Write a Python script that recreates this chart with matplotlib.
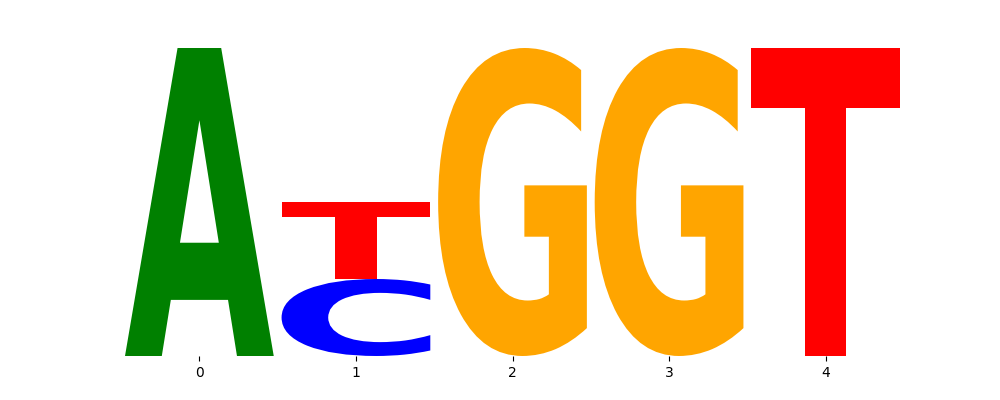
import matplotlib
matplotlib.use('Agg')
import matplotlib.pyplot as plt
from matplotlib.textpath import TextPath
from matplotlib.patches import PathPatch
from matplotlib.font_manager import FontProperties
from matplotlib.transforms import Affine2D

# stacked letters per position (bottom to top) with their heights
positions = [0, 1, 2, 3, 4]
letters = [['A'], ['C', 'T'], ['G'], ['G'], ['T']]
heights = [[2.0], [0.5, 0.5], [2.0], [2.0], [2.0]]
colors = {'A': 'green', 'C': 'blue', 'G': 'orange', 'T': 'red'}

width = 0.95
fp = FontProperties(family='DejaVu Sans', weight='bold')


def draw_letter(ax, ch, x, floor, h):
    path = TextPath((0, 0), ch, size=1, prop=fp)
    ext = path.get_extents()
    tr = (Affine2D().translate(-ext.x0, -ext.y0)
          .scale(width / ext.width, h / ext.height)
          .translate(x - width / 2, floor))
    ax.add_patch(PathPatch(tr.transform_path(path), facecolor=colors[ch],
                           edgecolor='none'))


fig, ax = plt.subplots(figsize=(10, 4), dpi=100)
for pos, chars, hs in zip(positions, letters, heights):
    floor = 0
    for ch, h in zip(chars, hs):
        draw_letter(ax, ch, pos, floor, h)
        floor += h

ax.set_xlim(positions[0] - width / 2, positions[-1] + width / 2)
ax.set_ylim(0, 2.0)
ax.set_xticks(positions)
ax.set_yticks([])
for s in ax.spines.values():
    s.set_visible(False)

plt.savefig('out.png', dpi=100)
